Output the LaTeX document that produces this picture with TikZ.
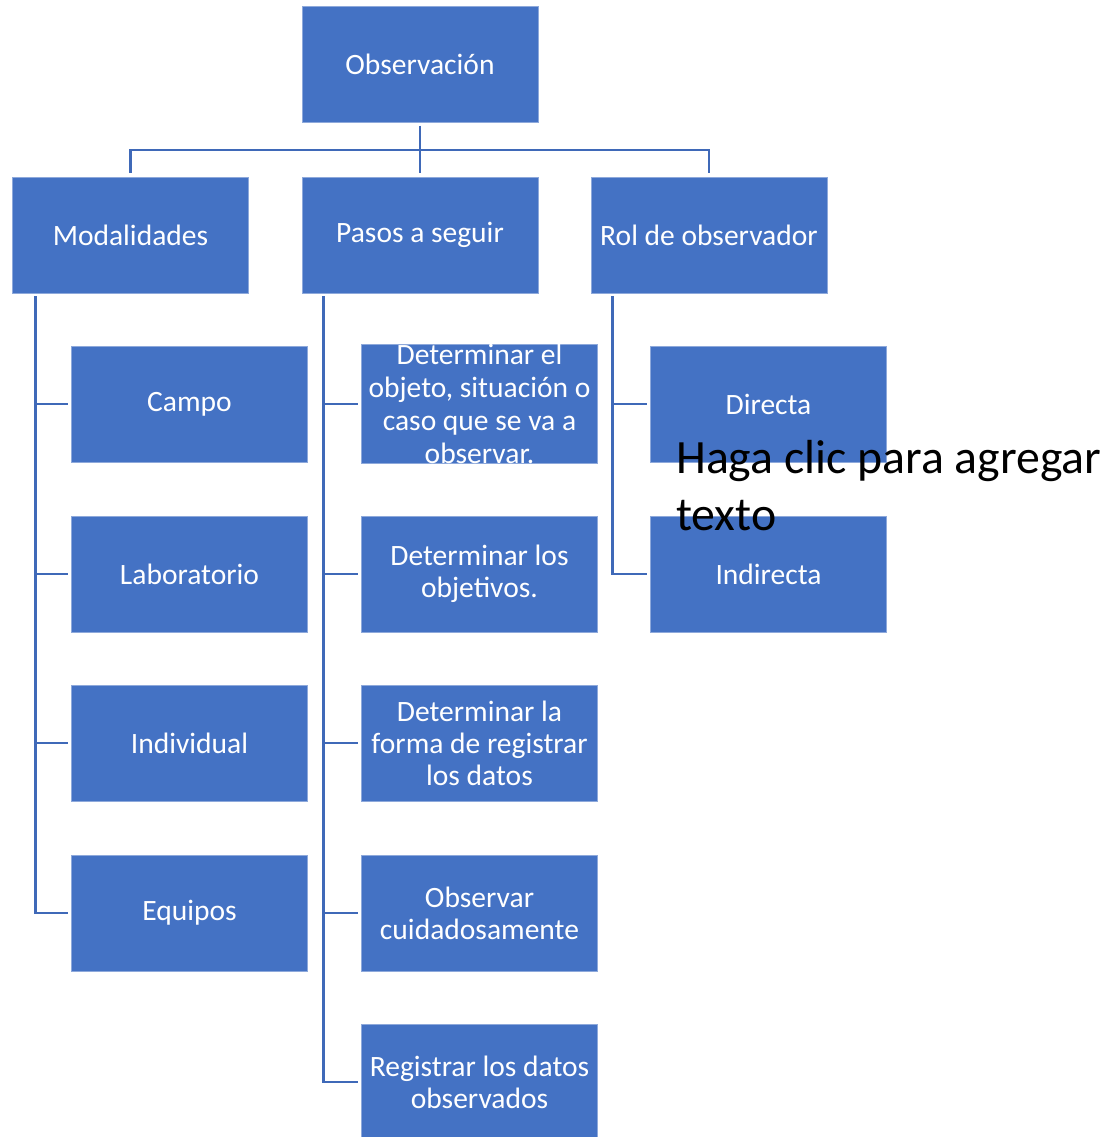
\documentclass[tikz,border=0pt]{standalone}
\usepackage{fontspec}
\setmainfont{Carlito}
\usepackage{tikz}
\usetikzlibrary{calc}
\definecolor{boxblue}{HTML}{4472C4}
\definecolor{edge}{HTML}{8EA9DB}
\definecolor{linkblue}{HTML}{3F69B8}
\tikzset{
  item/.style={rectangle, fill=boxblue, draw=edge, line width=0.5pt, minimum width=5.9cm, minimum height=2.9cm, inner sep=0pt, align=center, text=white, font=\fontsize{21}{22.8}\selectfont},
  conn/.style={draw=linkblue, line width=2.1pt},
  hint/.style={text=black, inner sep=0pt, align=left, font=\fontsize{34}{40.5}\selectfont},
}
\begin{document}
\begin{tikzpicture}[x=0.025cm, y=-0.025cm]
  \useasboundingbox (0,0) rectangle (1109,1137);
  \node[item] (obs) at (420,64) {Observación};
  \node[item] (mod) at (130.5,235) {Modalidades};
  \node[item] (pas) at (420,235) {Pasos a seguir};
  \node[item] (rol) at (709,235) {Rol de observador};
  \node[item] (cam) at (189.5,404) {Campo};
  \node[item] (lab) at (189.5,574) {Laboratorio};
  \node[item] (indv) at (189.5,743) {Individual};
  \node[item] (equ) at (189.5,913) {Equipos};
  \node[item, font=\fontsize{21}{23.4}\selectfont] (obj) at (479.5,404) {Determinar el\\objeto, situación o\\caso que se va a\\observar.};
  \node[item] (fin) at (479.5,574) {Determinar los\\objetivos.};
  \node[item] (form) at (479.5,743) {Determinar la\\forma de registrar\\los datos};
  \node[item] (cui) at (479.5,913) {Observar\\cuidadosamente};
  \node[item] (reg) at (479.5,1082) {Registrar los datos\\observados};
  \node[item] (dir) at (768.5,404) {Directa};
  \node[item] (indr) at (768.5,574) {Indirecta};
  \coordinate (bus) at (420,150);
  \coordinate (tm) at ($(mod.south west)+(23,3)$);
  \coordinate (tp) at ($(pas.south west)+(22,3)$);
  \coordinate (tr) at ($(rol.south west)+(22,3)$);
  \draw[conn, shorten <=0.08cm, shorten >=0.1cm] (obs.south) -- (pas.north);
  \draw[conn, shorten <=0.1cm, shorten >=0.1cm] (mod.north) |- (bus) -| (rol.north);
  \draw[conn, shorten >=0.08cm] (tm) |- (equ.west);
  \draw[conn, shorten >=0.08cm] (tm |- cam.west) -- (cam.west);
  \draw[conn, shorten >=0.08cm] (tm |- lab.west) -- (lab.west);
  \draw[conn, shorten >=0.08cm] (tm |- indv.west) -- (indv.west);
  \draw[conn, shorten >=0.08cm] (tp) |- (reg.west);
  \draw[conn, shorten >=0.08cm] (tp |- obj.west) -- (obj.west);
  \draw[conn, shorten >=0.08cm] (tp |- fin.west) -- (fin.west);
  \draw[conn, shorten >=0.08cm] (tp |- form.west) -- (form.west);
  \draw[conn, shorten >=0.08cm] (tp |- cui.west) -- (cui.west);
  \draw[conn, shorten >=0.08cm] (tr) |- (indr.west);
  \draw[conn, shorten >=0.08cm] (tr |- dir.west) -- (dir.west);
  \node[hint, anchor=base west] (clic) at (676,530) {Haga clic para agregar\\texto};
\end{tikzpicture}
\end{document}
